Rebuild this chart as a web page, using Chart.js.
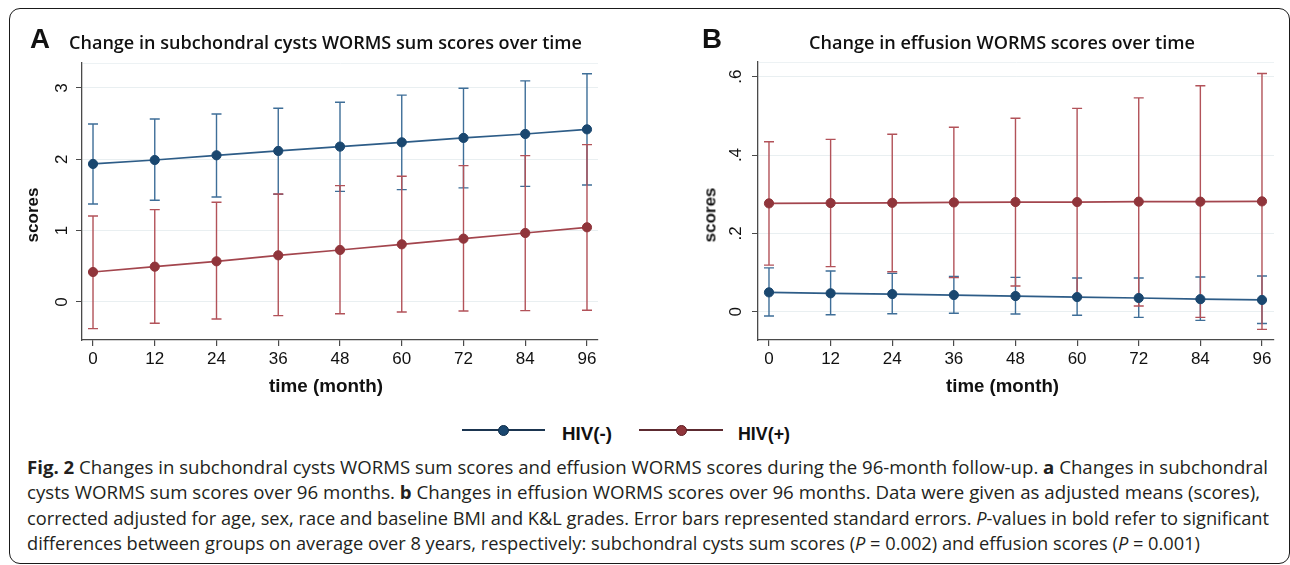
<!DOCTYPE html>
<html><head><meta charset="utf-8">
<script src="https://cdn.jsdelivr.net/npm/chart.js@4.4.1/dist/chart.umd.min.js"></script>
<style>
html,body{margin:0;padding:0;background:#fff;}
#root{position:relative;width:1290px;height:565px;overflow:hidden;background:#fff;}
.frame{position:absolute;left:9px;top:8px;width:1281px;height:556px;border:1.5px solid #1a1a1a;border-radius:11px;box-sizing:border-box;}
.t{position:absolute;white-space:nowrap;line-height:normal;left:0;top:0;}
.ct{font-family:"Liberation Sans",Arial,sans-serif;font-weight:700;color:#111;}
.cap{font-family:"Open Sans",sans-serif;font-size:17.5px;color:#231f20;}
.cap b{font-weight:700;}
canvas{position:absolute;}
.lg{position:absolute;}
</style></head><body>
<div id="root">
  <div class="frame"></div>
  <canvas id="chartA" width="645" height="410" style="left:0;top:0"></canvas>
  <canvas id="chartB" width="645" height="410" style="left:645px;top:0"></canvas>

  <div class="t ct" id="lblA" style="font-size:28px">A</div>
  <div class="t ct" id="lblB" style="font-size:28px">B</div>
  <div class="t" id="titleA" style="font-family:'Open Sans',sans-serif;font-weight:600;font-size:18px;color:#111">Change in subchondral cysts WORMS sum scores over time</div>
  <div class="t" id="titleB" style="font-family:'Open Sans',sans-serif;font-weight:600;font-size:18px;color:#111">Change in effusion WORMS scores over time</div>
  <div class="t ct" id="xtA" style="font-size:18px">time (month)</div>
  <div class="t ct" id="xtB" style="font-size:18px">time (month)</div>
  <div class="t ct" id="ytA" style="font-size:17px">scores</div>
  <div class="t ct" id="ytB" style="font-size:17px">scores</div>

  <div class="lg" style="left:462px;top:429px;width:83px;height:2px;background:#1b3550"></div>
  <div class="lg" style="left:497.5px;top:424.5px;width:9px;height:9px;border-radius:50%;background:#1a476f;border:1px solid #0e2c48"></div>
  <div class="lg" style="left:639px;top:429px;width:84px;height:2px;background:#5c2a30"></div>
  <div class="lg" style="left:675.5px;top:424.5px;width:9px;height:9px;border-radius:50%;background:#90353b;border:1px solid #5e1d22"></div>
  <div class="t ct" id="lg1" style="font-size:18px">HIV(-)</div>
  <div class="t ct" id="lg2" style="font-size:18px">HIV(+)</div>

  <div class="t cap" id="cap1"><b>Fig. 2</b> Changes in subchondral cysts WORMS sum scores and effusion WORMS scores during the 96-month follow-up. <b>a</b> Changes in subchondral</div>
  <div class="t cap" id="cap2">cysts WORMS sum scores over 96 months. <b>b</b> Changes in effusion WORMS scores over 96 months. Data were given as adjusted means (scores),</div>
  <div class="t cap" id="cap3">corrected adjusted for age, sex, race and baseline BMI and K&amp;L grades. Error bars represented standard errors. <i>P</i>-values in bold refer to significant</div>
  <div class="t cap" id="cap4">differences between groups on average over 8 years, respectively: subchondral cysts sum scores (<i>P</i> = 0.002) and effusion scores (<i>P</i> = 0.001)</div>
</div>
<script>
// ---------- data ----------
const months = [0, 12, 24, 36, 48, 60, 72, 84, 96];
const xTicks = [0, 12, 24, 36, 48, 60, 72, 84, 96];
const yTicksA = [0, 1, 2, 3];
const yTicksB = [0, 0.2, 0.4, 0.6];
const seriesNames = ['HIV(-)', 'HIV(+)'];

// Panel A: subchondral cysts WORMS sum scores
const cystsNegMean = [1.935, 1.99, 2.056, 2.117, 2.178, 2.238, 2.30, 2.355, 2.42];
const cystsNegLow  = [1.374, 1.425, 1.472, 1.51, 1.55, 1.575, 1.60, 1.62, 1.64];
const cystsNegHigh = [2.495, 2.565, 2.636, 2.715, 2.80, 2.90, 2.995, 3.10, 3.20];
const cystsPosMean = [0.42, 0.495, 0.57, 0.654, 0.729, 0.808, 0.888, 0.967, 1.047];
const cystsPosLow  = [-0.374, -0.299, -0.238, -0.192, -0.164, -0.14, -0.126, -0.121, -0.117];
const cystsPosHigh = [1.206, 1.294, 1.397, 1.514, 1.631, 1.762, 1.911, 2.051, 2.206];

// Panel B: effusion WORMS scores
const effNegMean = [0.0494, 0.047, 0.045, 0.0426, 0.040, 0.0374, 0.035, 0.032, 0.030];
const effNegLow  = [-0.011, -0.0077, -0.005, -0.004, -0.006, -0.009, -0.0145, -0.022, -0.030];
const effNegHigh = [0.112, 0.104, 0.098, 0.090, 0.0877, 0.086, 0.086, 0.0885, 0.091];
const effPosMean = [0.2766, 0.2774, 0.278, 0.279, 0.280, 0.280, 0.281, 0.281, 0.2817];
const effPosLow  = [0.119, 0.115, 0.102, 0.087, 0.0655, 0.04, 0.0145, -0.0145, -0.045];
const effPosHigh = [0.434, 0.44, 0.453, 0.471, 0.494, 0.519, 0.546, 0.577, 0.608];

// ---------- styles ----------
const NAVY = {marker:'#1a476f', line:'#2d5c87', err:'#3e6e98'};
const MAROON = {marker:'#90353b', line:'#a3454d', err:'#b25259'};
const FONT = '"Liberation Sans", Arial, sans-serif';

const errorBarPlugin = {
  id: 'errorBars',
  beforeDatasetsDraw(chart) {
    const {ctx, chartArea, scales: {x, y}} = chart;
    ctx.save();
    ctx.strokeStyle = '#edf2f4';
    ctx.lineWidth = 1;
    ctx.beginPath();
    ctx.moveTo(chartArea.left + 1, chartArea.top + 0.5);
    ctx.lineTo(chartArea.right, chartArea.top + 0.5);
    ctx.stroke();
    chart.data.datasets.forEach(ds => {
      ctx.strokeStyle = ds.errColor;
      ctx.lineWidth = 1.4;
      ds.data.forEach((p, i) => {
        const px = x.getPixelForValue(p.x);
        const lo = y.getPixelForValue(ds.errLow[i]);
        const hi = y.getPixelForValue(ds.errHigh[i]);
        ctx.beginPath();
        ctx.moveTo(px, lo); ctx.lineTo(px, hi);
        ctx.moveTo(px - 5, lo); ctx.lineTo(px + 5, lo);
        ctx.moveTo(px - 5, hi); ctx.lineTo(px + 5, hi);
        ctx.stroke();
      });
    });
    ctx.restore();
  }
};

function series(label, mean, low, high, c) {
  return {
    label: label,
    data: months.map((m, i) => ({x: m, y: mean[i]})),
    errLow: low, errHigh: high, errColor: c.err,
    borderColor: c.line, borderWidth: 1.7,
    pointBackgroundColor: c.marker, pointBorderColor: c.marker,
    pointRadius: 4.6, pointBorderWidth: 1, pointHoverRadius: 4.6,
    tension: 0, fill: false
  };
}

function makeChart(id, datasets, cfg) {
  return new Chart(document.getElementById(id), {
    type: 'line',
    data: {datasets: datasets},
    plugins: [errorBarPlugin],
    options: {
      responsive: false, animation: false, events: [],
      layout: {padding: {left: 0, top: cfg.top, right: cfg.right, bottom: 20}},
      plugins: {legend: {display: false}, tooltip: {enabled: false}, title: {display: false}},
      scales: {
        x: {
          type: 'linear', min: cfg.xmin, max: cfg.xmax,
          afterBuildTicks: s => { s.ticks = xTicks.map(v => ({value: v})); },
          afterFit: s => { s.height = 50; },
          grid: {drawOnChartArea: false, drawTicks: true, tickLength: 6, tickColor: '#4a4a4a', color: '#4a4a4a', lineWidth: 1.2},
          border: {display: true, color: '#4a4a4a', width: 1.3},
          ticks: {font: {family: FONT, size: 17}, color: '#111', padding: 3, maxRotation: 0, autoSkip: false}
        },
        y: {
          type: 'linear', min: cfg.ymin, max: cfg.ymax,
          afterBuildTicks: s => { s.ticks = cfg.yTicks.map(v => ({value: v})); },
          afterFit: s => { s.width = cfg.yWidth; },
          grid: {color: '#e9eff1', lineWidth: 1, drawTicks: true, tickLength: 6, tickColor: '#4a4a4a'},
          border: {display: true, color: '#4a4a4a', width: 1.3},
          ticks: {
            font: {family: FONT, size: 17}, color: '#111', padding: 9,
            minRotation: 90, maxRotation: 90, crossAlign: 'center', autoSkip: false,
            callback: v => (v === 0 ? '0' : String(v).replace(/^0\./, '.'))
          }
        }
      }
    }
  });
}

makeChart('chartA', [
  series(seriesNames[0], cystsNegMean, cystsNegLow, cystsNegHigh, NAVY),
  series(seriesNames[1], cystsPosMean, cystsPosLow, cystsPosHigh, MAROON)
], {top: 63, right: 47, yWidth: 82, xmin: -2.14, xmax: 98.14, ymin: -0.533, ymax: 3.35, yTicks: yTicksA});

makeChart('chartB', [
  series(seriesNames[0], effNegMean, effNegLow, effNegHigh, NAVY),
  series(seriesNames[1], effPosMean, effPosLow, effPosHigh, MAROON)
], {top: 62, right: 16, yWidth: 113, xmin: -2.14, xmax: 98.34, ymin: -0.0722, ymax: 0.6375, yTicks: yTicksB});

// ---------- text placement ----------
function baseOf(el) {
  const p = document.createElement('span');
  p.style.cssText = 'display:inline-block;width:0;height:0;vertical-align:baseline;';
  el.appendChild(p);
  const b = p.offsetTop;
  el.removeChild(p);
  return b;
}
function place(id, x, baseline, align, targetW, forceScale) {
  const el = document.getElementById(id);
  const b = baseOf(el);
  const w = el.getBoundingClientRect().width;
  const sx = forceScale ? forceScale : (targetW ? targetW / w : 1);
  const W = w * sx;
  const left = align === 'center' ? x - W / 2 : (align === 'right' ? x - W : x);
  el.style.transformOrigin = '0 0';
  el.style.transform = 'scaleX(' + sx + ')';
  el.style.left = left + 'px';
  el.style.top = (baseline - b) + 'px';
  return sx;
}
function placeRot(id, cx, cy) {
  const el = document.getElementById(id);
  const r = el.getBoundingClientRect();
  el.style.left = (cx - r.width / 2) + 'px';
  el.style.top = (cy - r.height / 2) + 'px';
  el.style.transformOrigin = '50% 50%';
  el.style.transform = 'rotate(-90deg)';
}

place('lblA', 30, 48.3, 'left', 20);
place('lblB', 702, 48.3, 'left', 20);
place('titleA', 69, 49, 'left', 513);
place('titleB', 809, 49, 'left', 386);
place('xtA', 326, 392, 'center', 114);
place('xtB', 1002.5, 392, 'center', 113);
placeRot('ytA', 33.3, 214.5);
placeRot('ytB', 710.5, 215);
place('lg1', 562, 439.5, 'left', 50);
place('lg2', 738, 439.5, 'left', 52);
place('cap1', 27, 474, 'left', 1241);
place('cap2', 27, 499.3, 'left', 1233);
place('cap3', 27, 524.5, 'left', 1242);
place('cap4', 27, 549.5, 'left', 1173);
</script>
</body></html>
